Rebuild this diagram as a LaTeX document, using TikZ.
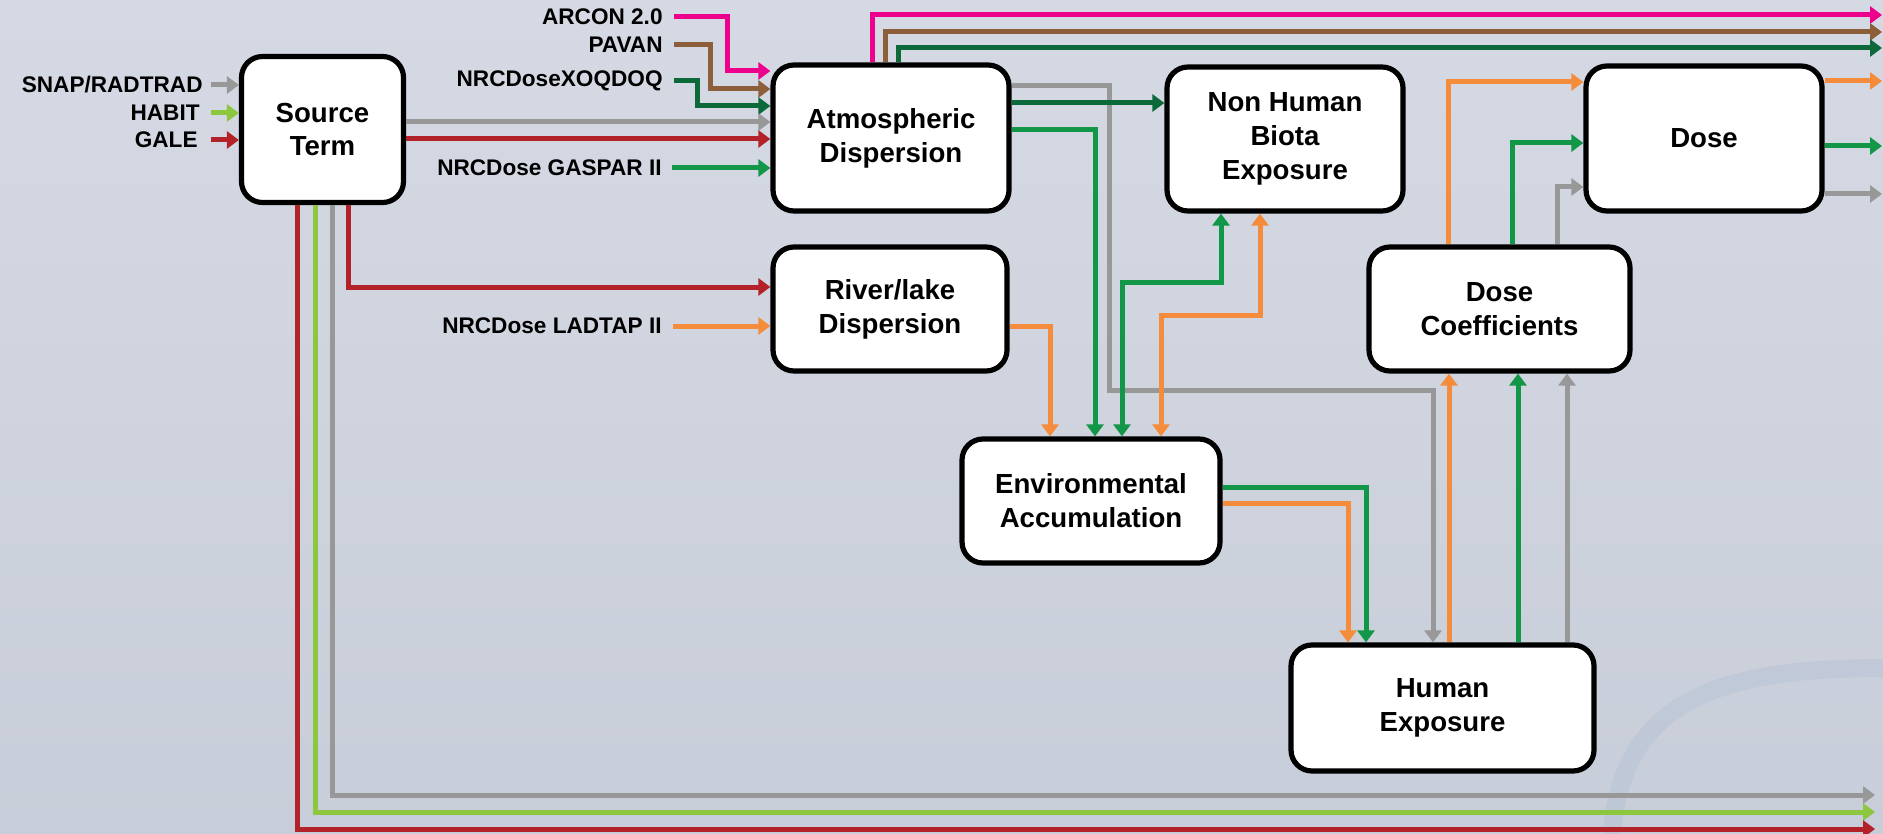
\documentclass[tikz,border=0pt]{standalone}
\usepackage{fontspec}
\setmainfont{Liberation Sans}
\usetikzlibrary{arrows.meta,calc}

\definecolor{bgtop}{RGB}{213,217,227}
\definecolor{bgbot}{RGB}{200,206,217}
\definecolor{swooshcol}{RGB}{150,170,205}
\definecolor{cpink}{RGB}{236,0,140}
\definecolor{cbrown}{RGB}{140,94,58}
\definecolor{cdkgreen}{RGB}{12,106,58}
\definecolor{cgreen}{RGB}{18,150,72}
\definecolor{clime}{RGB}{141,198,63}
\definecolor{cred}{RGB}{178,34,40}
\definecolor{cgray}{RGB}{152,152,152}
\definecolor{corange}{RGB}{245,140,60}

\tikzset{
  box/.style={draw=black, line width=2.6pt, fill=white, rounded corners=10.5pt,
    align=center, inner sep=0pt,
    font=\bfseries\fontsize{13.8}{16.9}\selectfont},
  lbl/.style={anchor=east, inner sep=0pt, font=\bfseries\fontsize{11.3}{13}\selectfont},
  flow/.style={line width=2.5pt, -{Triangle[length=6pt,width=8.5pt]}},
  bothway/.style={line width=2.5pt,
    {Triangle[length=6pt,width=8.5pt]}-{Triangle[length=6pt,width=8.5pt]}},
}

\begin{document}
\begin{tikzpicture}[x=0.5pt,y=-0.5pt]
\useasboundingbox (0,0) rectangle (1883,834);

% backdrop
\shade[top color=bgtop, bottom color=bgbot] (0,0) rectangle (1883,834);
\draw[swooshcol, line width=9pt, opacity=0.18]
  (1612,834) .. controls (1622,700) and (1720,668) .. (1883,668);

% process boxes
\node[box, minimum width=81pt,    minimum height=73pt] (src)  at (322.5,129.5) {Source\\Term};
\node[box, minimum width=118pt,   minimum height=73pt] (atm)  at (891,138)     {Atmospheric\\Dispersion};
\node[box, minimum width=117pt,   minimum height=62pt] (riv)  at (890,309)     {River/lake\\Dispersion};
\node[box, minimum width=118pt,   minimum height=72pt] (nhb)  at (1285,139)    {Non Human\\Biota\\Exposure};
\node[box, minimum width=118pt,   minimum height=72.5pt] (dose) at (1704,138.5) {Dose};
\node[box, minimum width=130.5pt, minimum height=62pt] (dc)   at (1499.5,309)  {Dose\\Coefficients};
\node[box, minimum width=129pt,   minimum height=62pt] (env)  at (1091,501)    {Environmental\\Accumulation};
\node[box, minimum width=151.5pt, minimum height=63pt] (he)   at (1442.5,708)  {Human\\Exposure};

% code labels
\node[lbl] (snap)   at (203,85)  {SNAP/RADTRAD};
\node[lbl] (habit)  at (200,113) {HABIT};
\node[lbl] (gale)   at (198,140) {GALE};
\node[lbl] (arcon)  at (663,17)  {ARCON 2.0};
\node[lbl] (pavan)  at (663,45)  {PAVAN};
\node[lbl] (xoq)    at (663,81)  {NRCDoseXOQDOQ};
\node[lbl] (gaspar) at (662,168) {NRCDose GASPAR II};
\node[lbl] (ladtap) at (662,326) {NRCDose LADTAP II};

% free ends at the right margin
\coordinate (outPink)  at (1882,15);
\coordinate (outBrown) at (1882,32);
\coordinate (outDk)    at (1882,48);
\coordinate (outOr)    at (1882,81);
\coordinate (outGr)    at (1882,146);
\coordinate (outGy)    at (1882,194);
\coordinate (botGray)  at (1875,795);
\coordinate (botLime)  at (1875,812);
\coordinate (botRed)   at (1875,829);

% inputs to the source term
\draw[flow,cgray] ($(src.west|-snap.east)+(-28,0)$)  -- (src.west|-snap.east);
\draw[flow,clime] ($(src.west|-habit.east)+(-28,0)$) -- (src.west|-habit.east);
\draw[flow,cred]  ($(src.west|-gale.east)+(-28,0)$)  -- (src.west|-gale.east);

% inputs to atmospheric dispersion
\draw[flow,cpink]    ([xshift=5.5pt]arcon.east) -| (727,71)  -- (atm.west|-0,71);
\draw[flow,cbrown]   ([xshift=5.5pt]pavan.east) -| (710,89)  -- (atm.west|-0,89);
\draw[flow,cdkgreen] ([xshift=5.5pt]xoq.east)   -| (697,106) -- (atm.west|-0,106);
\draw[flow,cgray]    (src.east|-0,122) -- (atm.west|-0,122);
\draw[flow,cred]     (src.east|-0,139) -- (atm.west|-0,139);
\draw[flow,cgreen]   ([xshift=5pt]gaspar.east) -- (atm.west|-gaspar.east);

% atmospheric dispersion, pass-through to the right margin
\draw[flow,cpink]    (atm.north-|872,0) |- (outPink);
\draw[flow,cbrown]   (atm.north-|885,0) |- (outBrown);
\draw[flow,cdkgreen] (atm.north-|898,0) |- (outDk);

% source term, long routes along the bottom
\draw[flow,cgray] (src.south-|332,0) |- (botGray);
\draw[flow,clime] (src.south-|315,0) |- (botLime);
\draw[flow,cred]  (src.south-|297,0) |- (botRed);
\draw[flow,cred]  (src.south-|348,0) |- (riv.west|-0,287);

% river/lake dispersion
\draw[flow,corange] ([xshift=5.5pt]ladtap.east) -- (riv.west|-ladtap.east);
\draw[flow,corange] (riv.east|-0,326) -| (env.north-|1050,0);

% atmospheric dispersion outputs
\draw[flow,cgray]    (atm.east|-0,86) -| (1109,390) -| (he.north-|1433,0);
\draw[flow,cdkgreen] (atm.east|-0,103) -- (nhb.west|-0,103);
\draw[flow,cgreen]   (atm.east|-0,130) -| (env.north-|1095,0);

% environmental accumulation <-> non human biota
\draw[bothway,cgreen]  (env.north-|1122,0) |- (1221,282) -- (nhb.south-|1221,0);
\draw[bothway,corange] (env.north-|1161,0) |- (1260,315) -- (nhb.south-|1260,0);

% environmental accumulation to human exposure
\draw[flow,cgreen]  (env.east|-0,487) -| (he.north-|1366,0);
\draw[flow,corange] (env.east|-0,503) -| (he.north-|1348,0);

% human exposure to dose coefficients
\draw[flow,corange] (he.north-|1449,0) -- (dc.south-|1449,0);
\draw[flow,cgreen]  (he.north-|1518,0) -- (dc.south-|1518,0);
\draw[flow,cgray]   (he.north-|1567,0) -- (dc.south-|1567,0);

% dose coefficients to dose
\draw[flow,corange] (dc.north-|1448,0) |- (dose.west|-0,82);
\draw[flow,cgreen]  (dc.north-|1512,0) |- (dose.west|-0,143);
\draw[flow,cgray]   (dc.north-|1557,0) |- (dose.west|-0,187);

% dose outputs
\draw[flow,corange] (dose.east|-outOr) -- (outOr);
\draw[flow,cgreen]  (dose.east|-outGr) -- (outGr);
\draw[flow,cgray]   (dose.east|-outGy) -- (outGy);
\end{tikzpicture}
\end{document}
